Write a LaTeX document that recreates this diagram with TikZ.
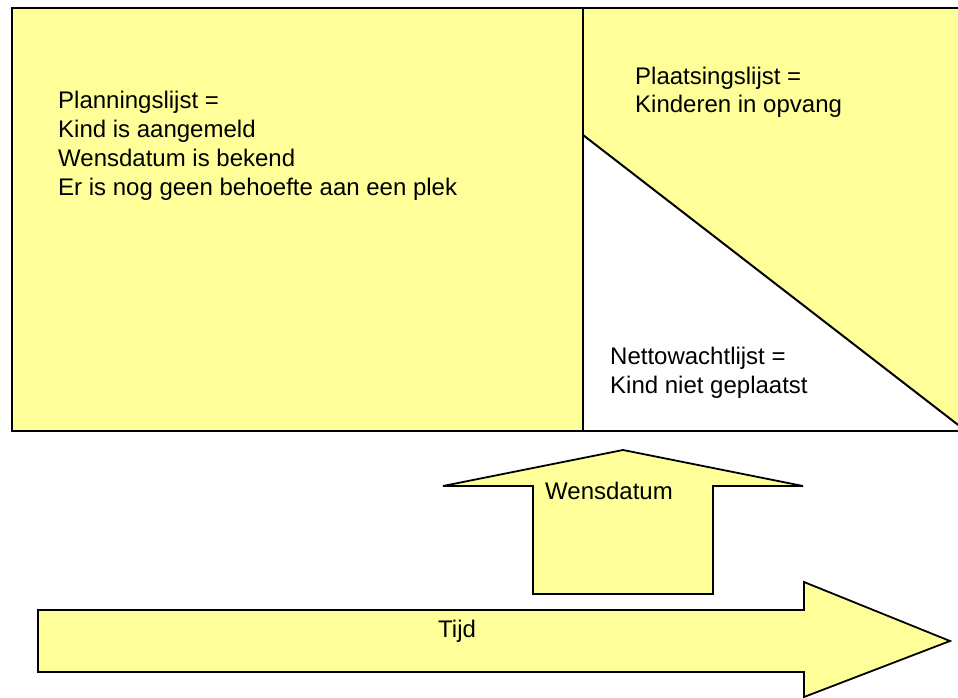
\documentclass[tikz,border=0pt]{standalone}
\usepackage{fontspec}
\setmainfont{Liberation Sans}
\definecolor{lichtgeel}{HTML}{FFFF99}
\tikzset{
  vlak/.style={fill=lichtgeel, draw=black, line width=1.8pt, line join=miter},
  tekst/.style={anchor=base west, inner sep=0pt, align=left, font=\fontsize{24}{28.7}\selectfont}
}
\begin{document}
\begin{tikzpicture}[x=1pt,y=-1pt]
		\useasboundingbox (0,0) rectangle (958,698);
		% Lijsten
		\begin{scope}
			\clip (0,0) rectangle (958,698);
			\fill[lichtgeel] (12,8) rectangle (975,431);
			\fill[white] (583,135) -- (583,431) -- (966,431) -- cycle;
			\draw[line width=2.5pt] (975,8) -- (12,8) -- (12,431) -- (975,431);
			\draw[line width=2pt] (583,8) -- (583,431);
			\draw[line width=2pt] (583,135) -- (966,431);
		\end{scope}
		% base = laatste regel
		\node[tekst] (planning) at (58,195) {Planningslijst =\\Kind is aangemeld\\Wensdatum is bekend\\Er is nog geen behoefte aan een plek};
		\node[tekst] (plaatsing) at (635,113) {Plaatsingslijst =\\Kinderen in opvang};
		\node[tekst] (netto) at (610,393) {Nettowachtlijst =\\Kind niet geplaatst};
		% Pijlen
		\draw[vlak] (623,450) -- (803,486) -- (713,486) -- (713,594) -- (533,594) -- (533,486) -- (443,486) -- cycle;
		\node[tekst] (wens) at (545,499) {Wensdatum};
		\draw[vlak] (38,610) -- (804,610) -- (804,582) -- (950,641) -- (804,697) -- (804,672) -- (38,672) -- cycle;
		\node[tekst] (tijd) at (438,637) {Tijd};
	\end{tikzpicture}
\end{document}
